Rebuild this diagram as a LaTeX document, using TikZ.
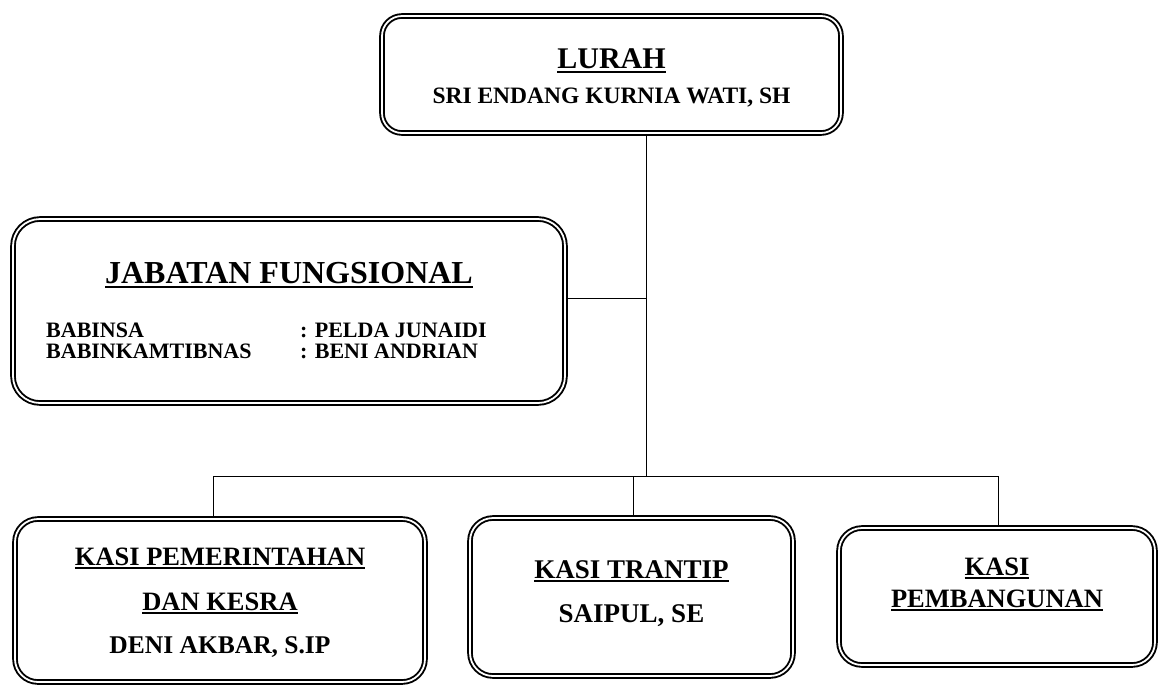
\documentclass[tikz,border=0pt]{standalone}
\usepackage{fontspec}
\setmainfont{Liberation Serif}
\newcommand{\undl}[1]{\setbox0=\hbox{#1}\rlap{\rule[-0.16em]{\wd0}{0.07em}}\box0}
\newcommand{\fsz}[1]{\fontsize{#1}{#1}\selectfont\bfseries}
\begin{document}
\begin{tikzpicture}[x=1pt, y=-1pt,
    box/.style={draw, double, double distance=1.8pt, line width=1.9pt, rounded corners=#1, inner sep=0pt},
    box/.default=20,
    txt/.style={anchor=base, inner sep=0pt, font=\fsz{#1}},
    link/.style={line width=0.9pt}]
    \useasboundingbox (0,0) rectangle (1159,686);

    % boxes
    \node[box, minimum width=459pt, minimum height=117pt] (lurah) at (611.5,74.5) {};
    \node[box=27, minimum width=552pt, minimum height=184pt] (jabatan) at (289,311) {};
    \node[box=23, minimum width=410pt, minimum height=163pt] (pemerintahan) at (220,600.5) {};
    \node[box=23, minimum width=323pt, minimum height=158pt] (trantip) at (631.5,597) {};
    \node[box=23, minimum width=316pt, minimum height=137pt] (pembangunan) at (997,596.5) {};

    % texts
    \node[txt=30] (lurahT) at (611.5,68) {\undl{LURAH}};
    \node[txt=23.5] (lurahN) at (611.5,103) {SRI ENDANG KURNIA WATI, SH};

    \node[txt=32] (jabatanT) at (289,283) {\undl{JABATAN FUNGSIONAL}};
    \node[txt=22, anchor=base west] (babinsa) at (46,337) {BABINSA};
    \node[txt=22, anchor=base west] (babinsaN) at (300,337) {: PELDA JUNAIDI};
    \node[txt=22, anchor=base west] (babin) at (46,358) {BABINKAMTIBNAS};
    \node[txt=22, anchor=base west] (babinN) at (300,358) {: BENI ANDRIAN};

    \node[txt=26.5] (pemT1) at (220,565) {\undl{KASI PEMERINTAHAN}};
    \node[txt=26.5] (pemT2) at (220,610) {\undl{DAN KESRA}};
    \node[txt=25.5] (pemN) at (220,653) {DENI AKBAR, S.IP};

    \node[txt=27] (trantipT) at (631.5,578) {\undl{KASI TRANTIP}};
    \node[txt=27] (trantipN) at (631.5,622) {SAIPUL, SE};

    \node[txt=26.5] (pembT1) at (997,575) {\undl{KASI}};
    \node[txt=26.5] (pembT2) at (997,607) {\undl{PEMBANGUNAN}};

    % lines
    \coordinate (trunk) at (646,476);
    \coordinate (jab) at (646,298);
    \coordinate (b1) at (213,476);
    \coordinate (b2) at (633,476);
    \coordinate (b3) at (998,476);
    \draw[link] (trunk |- lurah.south) -- (trunk);
    \draw[link] (jab -| jabatan.east) -- (jab);
    \draw[link] (b1) -- (b3);
    \draw[link] (b1) -- (b1 |- pemerintahan.north);
    \draw[link] (b2) -- (b2 |- trantip.north);
    \draw[link] (b3) -- (b3 |- pembangunan.north);
\end{tikzpicture}
\end{document}
